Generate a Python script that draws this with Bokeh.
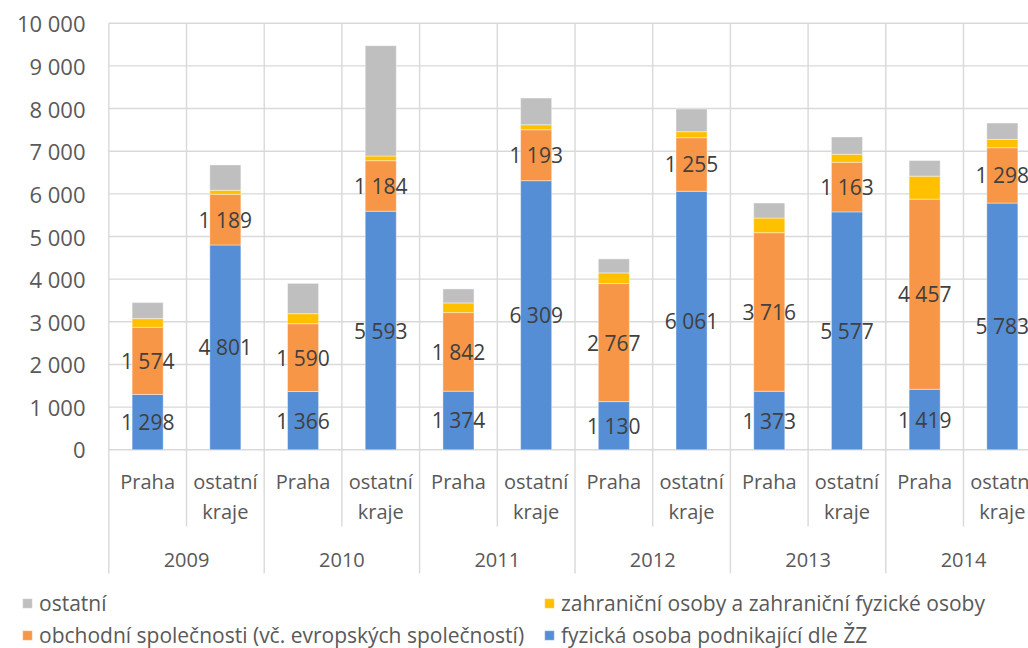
from bokeh.plotting import figure
from bokeh.models import Range1d, Legend, LegendItem, ColumnDataSource
from bokeh.embed import file_html
from bokeh.resources import INLINE
from bokeh.core.properties import value

# ---------------- data ----------------
years = ["2009", "2010", "2011", "2012", "2013", "2014"]
regions = ["Praha", "ostatní kraje"]
fyzicka = [1298, 4801, 1366, 5593, 1374, 6309, 1130, 6061, 1373, 5577, 1419, 5783]
obchodni = [1574, 1189, 1590, 1184, 1842, 1193, 2767, 1255, 3716, 1163, 4457, 1298]
zahranicni = [203, 94, 235, 110, 227, 117, 250, 141, 344, 188, 539, 196]
ostatni = [375, 594, 710, 2586, 328, 625, 328, 531, 351, 406, 367, 382]
y_ticks = [0, 1000, 2000, 3000, 4000, 5000, 6000, 7000, 8000, 9000, 10000]
series_names = [
    "fyzická osoba podnikající dle ŽZ",
    "obchodní společnosti (vč. evropských společností)",
    "zahraniční osoby a zahraniční fyzické osoby",
    "ostatní",
]
colors = ["#558ED5", "#F79646", "#FFC000", "#BFBFBF"]

FONT = value("Open Sans")
GRID = "#d9d9d9"
TXT = "#595959"
LBL = "#404040"

# ---------------- geometry helpers (pixels -> data) ----------------
W, H = 1028, 648
zero_px, top_tick_px = 449.3, 22.7          # pixel rows of 0 and 10 000
left_px, cat_px = 108.3, 77.7               # left edge of plot area, category width
upp = (y_ticks[-1] - y_ticks[0]) / (zero_px - top_tick_px)


def py(page_y):
    return (zero_px - page_y) * upp


def px(page_x):
    return (page_x - left_px) / cat_px


n = len(years) * len(regions)

p = figure(
    width=W, height=H,
    x_range=Range1d(px(0), px(W)),
    y_range=Range1d(py(H), py(0)),
    output_backend="svg", toolbar_location=None,
    x_axis_location=None, y_axis_location=None,
    min_border_left=0, min_border_right=0, min_border_top=0, min_border_bottom=0,
)
p.outline_line_color = None
p.grid.visible = False

# value axis: horizontal gridlines and tick labels
x_right = px(W) + 1
p.segment(x0=[0] * len(y_ticks), y0=y_ticks, x1=[x_right] * len(y_ticks), y1=y_ticks,
          line_color=GRID, line_width=1.4)
p.text(x=[px(85)] * len(y_ticks), y=y_ticks,
       text=[f"{t:,}".replace(",", " ") for t in y_ticks],
       text_align="right", text_baseline="middle", text_font=FONT,
       text_font_size="22px", text_color=TXT)

# vertical separators (category level and year level)
bounds = list(range(n + 1))
seg_bottom = [py(573) if b % len(regions) == 0 else py(526) for b in bounds]
p.segment(x0=bounds, y0=[y_ticks[-1]] * len(bounds), x1=bounds, y1=seg_bottom,
          line_color=GRID, line_width=1.4)

# stacked bars
xs = [i + 0.5 for i in range(n)]
src = ColumnDataSource(dict(x=xs, f=fyzicka, o=obchodni, z=zahranicni, s=ostatni))
rs = p.vbar_stack(["f", "o", "z", "s"], x="x", width=0.4, color=colors,
                  line_color="white", line_width=0.6, line_alpha=0.7, source=src)

# data labels
lab_f = [f"{v:,}".replace(",", " ") for v in fyzicka]
lab_o = [f"{v:,}".replace(",", " ") for v in obchodni]
p.text(x=xs, y=[v / 2 for v in fyzicka], text=lab_f, text_align="center",
       text_baseline="middle", text_font=FONT, text_font_size="21px", text_color=LBL)
p.text(x=xs, y=[a + b / 2 for a, b in zip(fyzicka, obchodni)], text=lab_o,
       text_align="center", text_baseline="middle", text_font=FONT,
       text_font_size="21px", text_color=LBL)

# category labels
cat_text = [regions[i % len(regions)].replace(" ", "\n") for i in range(n)]
p.text(x=xs, y=[py(467)] * n, text=cat_text, text_align="center",
       text_baseline="top", text_line_height=1.14, text_font=FONT,
       text_font_size="20px", text_color=TXT)

# year labels
yx = [j * len(regions) + len(regions) / 2 for j in range(len(years))]
p.text(x=yx, y=[py(559)] * len(years), text=years, text_align="center",
       text_baseline="middle", text_font=FONT, text_font_size="20px", text_color=TXT)


# legend: two columns at the bottom
def make_legend(idx, x_off):
    return Legend(items=[LegendItem(label=series_names[i], renderers=[rs[i]]) for i in idx],
                  location=(x_off, -1), orientation="vertical",
                  padding=0, margin=0, spacing=4, glyph_width=12, glyph_height=12,
                  label_standoff=6, border_line_color=None, background_fill_alpha=0,
                  label_text_font="Open Sans", label_text_font_size="21px",
                  label_text_color=TXT)


p.add_layout(make_legend([3, 1], 21))
p.add_layout(make_legend([2, 0], 543))

open("out.html", "w").write(file_html(p, INLINE))
